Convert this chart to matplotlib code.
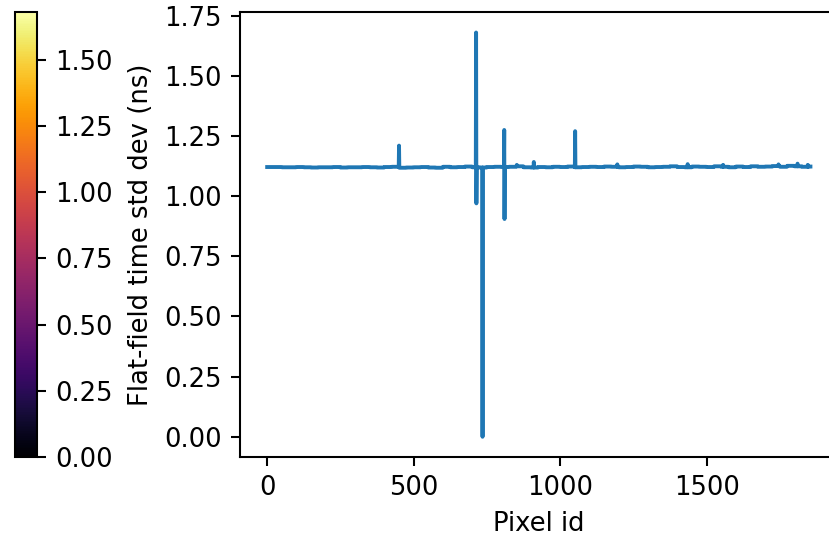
import numpy as np
import matplotlib
matplotlib.use("Agg")
import matplotlib.pyplot as plt
from matplotlib import cm, colors, ticker

DPI = 186

# number of camera pixels
n_pixels = 1855

# baseline std dev read per block of 25 pixels
block_size = 25
baseline_levels = [
    1.121, 1.121, 1.120, 1.120, 1.121, 1.120, 1.119, 1.120, 1.120, 1.121,
    1.119, 1.120, 1.120, 1.121, 1.120, 1.119, 1.121, 1.122, 1.118, 1.119,
    1.120, 1.121, 1.119, 1.118, 1.122, 1.120, 1.121, 1.123, 1.120, 1.119,
    1.121, 1.122, 1.121, 1.122, 1.124, 1.120, 1.119, 1.121, 1.120, 1.122,
    1.121, 1.123, 1.120, 1.121, 1.122, 1.121, 1.123, 1.122, 1.120, 1.121,
    1.123, 1.122, 1.120, 1.121, 1.122, 1.124, 1.121, 1.120, 1.123, 1.122,
    1.121, 1.124, 1.122, 1.120, 1.123, 1.121, 1.124, 1.122, 1.123, 1.125,
    1.122, 1.126, 1.124, 1.122, 1.123,
]

# isolated pixels that stick out of the baseline
spike_ids = [450, 713, 714, 735, 809, 810, 852, 910, 1051, 1195, 1435, 1556, 1745, 1810, 1845]
spike_values = [1.21, 1.68, 0.97, 0.00, 1.275, 0.905, 1.13, 1.142, 1.27, 1.132, 1.133, 1.13, 1.132, 1.135, 1.13]

pixel_id = np.arange(n_pixels)
std_dev = np.repeat(baseline_levels, block_size)[:n_pixels]
std_dev[spike_ids] = spike_values

fig = plt.figure(figsize=(830 / DPI, 537 / DPI), dpi=DPI)

ax = fig.add_axes([240 / 830, 80 / 537, 597.6 / 830, 444.7 / 537])
ax.plot(pixel_id, std_dev)
ax.set_xlabel("Pixel id")
ax.set_ylabel("Flat-field time std dev (ns)")

# colorbar of the camera display (the display itself is outside the crop)
cax = fig.add_axes([15 / 830, 80 / 537, 22.5 / 830, 444.7 / 537])
norm = colors.Normalize(vmin=std_dev.min(), vmax=std_dev.max())
sm = cm.ScalarMappable(norm=norm, cmap="inferno")
cb = fig.colorbar(sm, cax=cax)
cb.locator = ticker.MultipleLocator(0.25)
cb.formatter = ticker.FormatStrFormatter("%.2f")
cb.update_ticks()

fig.savefig("out.png", dpi=DPI)
